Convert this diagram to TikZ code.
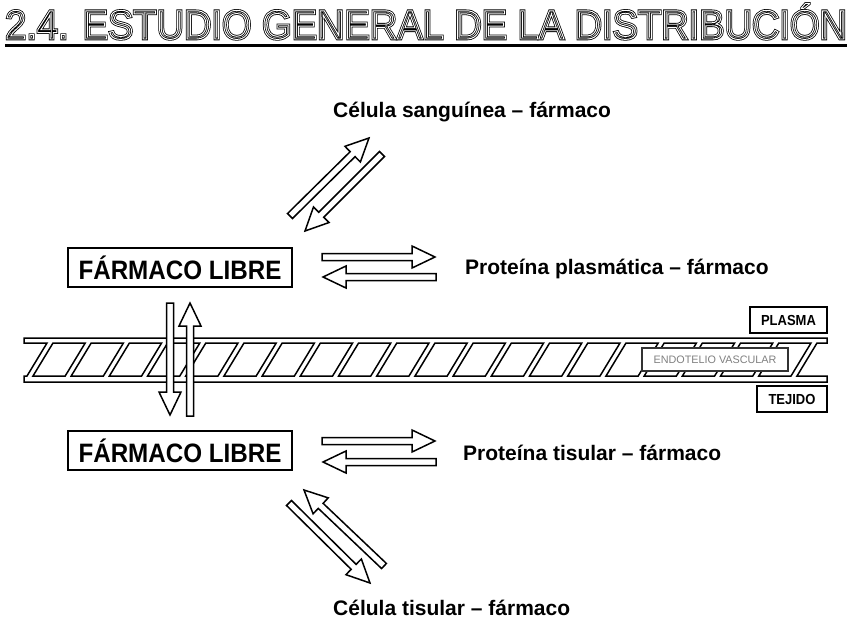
\documentclass[tikz,border=0pt]{standalone}
\usepackage{fontspec}
\setmainfont{Liberation Sans}
\usetikzlibrary{calc}
\newcommand\outlinetxt[2]{\special{pdf:literal direct #1 w 1 Tr}#2\special{pdf:literal direct 0 Tr}}
\tikzset{
  blockarr/.style={draw, fill=white, line width=1.5pt, line join=miter},
  membrane/.style={draw, line width=1.5pt, line join=miter},
  librebox/.style={draw, line width=1.4pt, minimum width=224pt, minimum height=39pt, inner sep=0pt,
    font=\bfseries\fontsize{24.2}{24.2}\selectfont},
  lbl/.style={inner sep=0pt, anchor=base west, font=\bfseries\fontsize{21}{21}\selectfont},
  sidebox/.style={draw, line width=1.3pt, minimum height=26pt, inner sep=0pt,
    font=\bfseries\fontsize{13}{13}\selectfont},
  titletxt/.style={inner sep=0pt, anchor=base west, font=\fontsize{38}{38}\selectfont}
}
\newcommand\blockarrow[2]{%
  \coordinate (bah) at ($(#2)!23pt!(#1)$);
  \draw[blockarr] ($(#1)!3.5pt!90:(#2)$) -- ($(bah)!3.5pt!90:(#2)$) -- ($(bah)!11pt!90:(#2)$)
    -- (#2) -- ($(bah)!11pt!-90:(#2)$) -- ($(bah)!3.5pt!-90:(#2)$) -- ($(#1)!3.5pt!-90:(#2)$) -- cycle;
}
\begin{document}
\begin{tikzpicture}[x=1pt,y=-1pt]
\useasboundingbox (0,0) rectangle (848,624);
\fill[white] (0,0) rectangle (848,624);

% title
\node[titletxt] (title) at (5,39) {\scalebox{1}[1.08]{\outlinetxt{2.4}{2.4. ESTUDIO GENERAL DE LA DISTRIBUCIÓN}}};
\node[titletxt, text=white] (title2) at (5,39) {\scalebox{1}[1.08]{\outlinetxt{0.9}{2.4. ESTUDIO GENERAL DE LA DISTRIBUCIÓN}}};
\draw[line width=3pt] ([yshift=-6pt]title.base west) -- ([yshift=-6pt]title.base east);

% membrane
\draw[membrane] (24,338) -- (827,338) -- (827,343) -- ({47+38.2*20+6},343) -- ({47+38.2*20-14},376)
  -- (827,376) -- (827,382) -- (24,382) -- (24,376) -- (27,376) -- (47,343) -- (24,343) -- cycle;
\foreach \k in {0,...,19}{
  \pgfmathsetmacro\aa{47+38.2*\k}
  \pgfmathsetmacro\bb{47+38.2*(\k+1)}
  \draw[membrane] ({\aa+6},343) -- (\bb,343) -- ({\bb-20},376) -- ({\aa-14},376) -- cycle;
}
\node[draw=black!80, line width=1.2pt, fill=white, minimum width=146pt, minimum height=23pt, inner sep=0pt,
  text=black!50, font=\fontsize{10.8}{10.8}\selectfont] (endo) at (715,359.5) {ENDOTELIO VASCULAR};
\node[sidebox, minimum width=77pt] (plasma) at (788.5,320) {\scalebox{1}[1.12]{PLASMA}};
\node[sidebox, minimum width=70pt] (tejido) at (792,399) {\scalebox{1}[1.12]{TEJIDO}};

% boxes
\node[librebox] (libre1) at (180,267.5) {\scalebox{1}[1.1]{FÁRMACO LIBRE}};
\node[librebox] (libre2) at (180,450.5) {\scalebox{1}[1.1]{FÁRMACO LIBRE}};

% labels
\node[lbl] (csang) at (333,117) {Célula sanguínea – fármaco};
\node[lbl] (pplas) at (465,274) {Proteína plasmática – fármaco};
\node[lbl] (ptis) at (463,460) {Proteína tisular – fármaco};
\node[lbl] (ctis) at (333,615) {Célula tisular – fármaco};

% arrow end points
\coordinate (vd1) at (170,303); \coordinate (vd2) at (170,415);
\coordinate (vu1) at (190,416); \coordinate (vu2) at (190,303);
\coordinate (ur1) at (290,216); \coordinate (ur2) at (369,138);
\coordinate (dl1) at (382,154); \coordinate (dl2) at (305,231);
\coordinate (hr1) at (322,257); \coordinate (hr2) at (435,257);
\coordinate (hl1) at (436,277); \coordinate (hl2) at (323,277);
\coordinate (lr1) at (322,441); \coordinate (lr2) at (435,441);
\coordinate (ll1) at (436,462); \coordinate (ll2) at (323,462);
\coordinate (ul1) at (384,566); \coordinate (ul2) at (304,490);
\coordinate (dr1) at (289,503); \coordinate (dr2) at (370,583);

\blockarrow{vd1}{vd2}
\blockarrow{vu1}{vu2}
\blockarrow{ur1}{ur2}
\blockarrow{dl1}{dl2}
\blockarrow{hr1}{hr2}
\blockarrow{hl1}{hl2}
\blockarrow{lr1}{lr2}
\blockarrow{ll1}{ll2}
\blockarrow{ul1}{ul2}
\blockarrow{dr1}{dr2}
\end{tikzpicture}
\end{document}
